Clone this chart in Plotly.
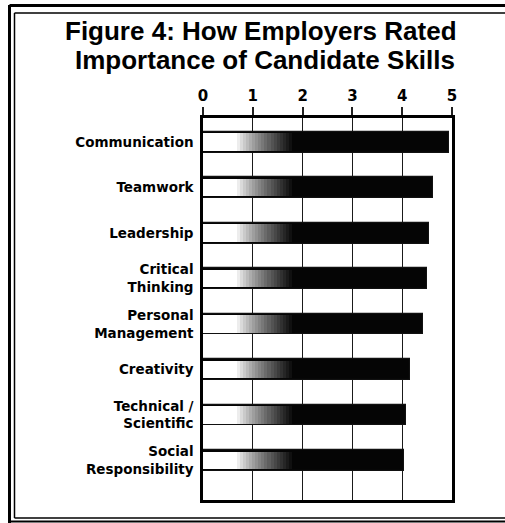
import plotly.graph_objects as go

categories = ["Communication", "Teamwork", "Leadership", "Critical<br>Thinking",
              "Personal<br>Management", "Creativity", "Technical /<br>Scientific",
              "Social<br>Responsibility"]
ratings = [4.93, 4.61, 4.53, 4.49, 4.41, 4.15, 4.08, 4.03]
tick_values = [0, 1, 2, 3, 4, 5]
title_lines = ["Figure 4: How Employers Rated", "Importance of Candidate Skills"]

W, H = 505, 523
L, R, T, B = 203, 452, 118, 500


def px(x):
    return (x - L) / (R - L)


def py(y):
    return (B - y) / (B - T)


FONT = "Liberation Sans, Arial, sans-serif"
LFONT = "DejaVu Sans, sans-serif"
fig = go.Figure()

BAR_W = 0.46
fig.add_trace(go.Bar(
    y=categories, x=ratings, orientation="h", width=BAR_W,
    marker=dict(color="#050505", line=dict(color="#111111", width=1.2)),
    showlegend=False, hoverinfo="x+y",
))

# white-to-black fade at the left end of each bar (style overlay)
steps = 30
g_start, g_end = 0.0, 1.85
seg = (g_end - g_start) / steps
for k in range(steps):
    t = (k + 0.5) / steps
    if t < 0.36:
        lv = 1.0
    else:
        u = (t - 0.36) / 0.64
        lv = max(0.0, 1.0 - u ** 0.8)
    c = int(round(255 * lv))
    fig.add_trace(go.Bar(
        y=categories, x=[seg] * len(categories), base=[g_start + k * seg] * len(categories),
        orientation="h", width=BAR_W - 0.07,
        marker=dict(color=f"rgb({c},{c},{c})", line=dict(width=0)),
        showlegend=False, hoverinfo="skip",
    ))

fig.update_layout(
    width=W, height=H,
    margin=dict(l=L, r=W - R, t=T, b=H - B, pad=0),
    paper_bgcolor="white", plot_bgcolor="white",
    barmode="overlay", bargap=0,
    font=dict(family=FONT, color="#000000"),
    xaxis=dict(
        side="top", range=[0, 5], tickvals=tick_values,
        ticktext=[f"<b>{v}</b>" for v in tick_values],
        tickfont=dict(size=15, family=LFONT, color="#000"),
        ticks="outside", ticklen=8, tickwidth=1.5, tickcolor="#222",
        showgrid=True, gridcolor="#1a1a1a", gridwidth=1.2,
        showline=True, linecolor="#000", linewidth=2.5, mirror=True,
        zeroline=False, fixedrange=True,
    ),
    yaxis=dict(
        type="category", range=[7.87, -0.53],
        tickvals=categories, ticktext=[f"<b>{c}</b>" for c in categories],
        tickfont=dict(size=13.5, family=LFONT, color="#000"),
        ticks="", ticklabelstandoff=4,
        showgrid=False, showline=True, linecolor="#000", linewidth=2.5, mirror=True,
        zeroline=False, fixedrange=True,
    ),
)

fig.add_annotation(text=f"<b>{title_lines[0]}</b>", x=px(261), y=py(31),
                   xref="paper", yref="paper", showarrow=False,
                   font=dict(size=26, family=FONT, color="#000"),
                   xanchor="center", yanchor="middle")
fig.add_annotation(text=f"<b>{title_lines[1]}</b>", x=px(265), y=py(60),
                   xref="paper", yref="paper", showarrow=False,
                   font=dict(size=26, family=FONT, color="#000"),
                   xanchor="center", yanchor="middle")

# outer double frame (left/top/bottom)
frame = [
    dict(x0=px(9.5), x1=px(9.5), y0=py(5), y1=py(523), w=3),
    dict(x0=px(9.5), x1=px(520), y0=py(5.5), y1=py(5.5), w=3),
    dict(x0=px(9.5), x1=px(520), y0=py(521.5), y1=py(521.5), w=2),
    dict(x0=px(14.5), x1=px(14.5), y0=py(13), y1=py(518), w=1.5),
    dict(x0=px(14.5), x1=px(520), y0=py(13), y1=py(13), w=1.5),
    dict(x0=px(14.5), x1=px(520), y0=py(518), y1=py(518), w=1.5),
]
for f in frame:
    fig.add_shape(type="line", xref="paper", yref="paper",
                  x0=f["x0"], x1=f["x1"], y0=f["y0"], y1=f["y1"],
                  line=dict(color="#000", width=f["w"]), layer="above")

fig.write_html("out.html", config={"displayModeBar": False},
               post_script="document.body.style.margin='0px';"
                           "document.body.style.overflow='hidden';"
                           "document.documentElement.style.overflow='hidden';")
